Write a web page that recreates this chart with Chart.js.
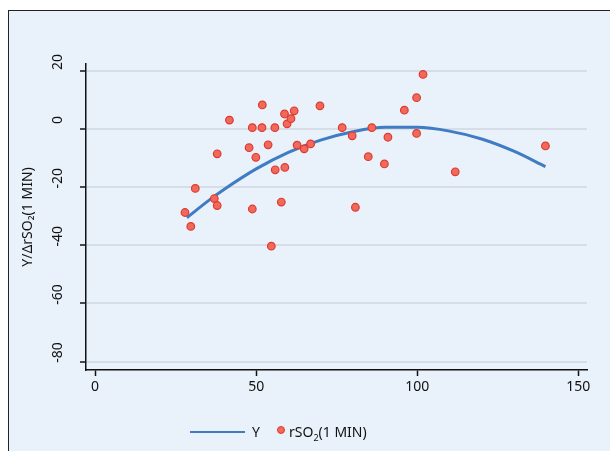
<!DOCTYPE html>
<html>
<head>
<meta charset="utf-8">
<script src="https://cdn.jsdelivr.net/npm/chart.js@4/dist/chart.umd.min.js"></script>
<style>
  html, body { margin: 0; padding: 0; background: #fff; }
  #frame { position: absolute; left: 8px; top: 10px; right: 0; bottom: 0;
           background: #E9F1FA; border-left: 1.5px solid #222; border-top: 1.5px solid #222; }
  #chart { position: absolute; left: 0; top: 0; }
  .lg { position: absolute; font-family: 'Noto Sans', sans-serif; font-size: 14px; color: #111; line-height: 16px; }
  #lgLine { position: absolute; left: 190px; top: 431px; width: 55px; height: 2px; background: #3F7CC4; }
  #lgDot { position: absolute; left: 277px; top: 426px; width: 6px; height: 6px; border-radius: 50%;
           background: #F0695C; border: 1px solid #DE3A2E; }
</style>
</head>
<body>
<div id="frame"></div>
<canvas id="chart" width="610" height="451"></canvas>
<div id="lgLine"></div>
<div class="lg" style="left:252px; top:424px;">Y</div>
<div id="lgDot"></div>
<div class="lg" style="left:289px; top:424px;">rSO<sub style="font-size:9px;">2</sub>(1 MIN)</div>
<script>
  // datos
  const xTicks = [0, 50, 100, 150];
  const yTicks = [-80, -60, -40, -20, 0, 20];

  // puntos rSO2 (1 MIN)
  const rso2X = [27.9, 29.7, 31.1, 37.0, 37.9, 37.9, 41.7, 47.8, 48.8, 48.8,
                 49.9, 51.9, 51.8, 53.7, 54.7, 55.8, 55.9, 57.8, 58.8, 58.9,
                 59.6, 60.8, 61.8, 62.7, 64.9, 66.9, 69.8, 76.7, 79.8, 80.8,
                 84.8, 85.9, 89.8, 90.9, 96.0, 99.8, 99.8, 101.8, 111.8, 139.8];
  const rso2Y = [-28.7, -33.5, -20.4, -23.9, -26.3, -8.5, 3.1, -6.4, 0.5, -27.5,
                 -9.7, 8.3, 0.5, -5.4, -40.3, 0.5, -14.0, -25.1, 5.2, -13.2,
                 1.8, 3.6, 6.3, -5.5, -6.8, -5.1, 8.0, 0.5, -2.3, -26.9,
                 -9.5, 0.5, -12.0, -2.8, 6.5, 10.8, -1.5, 18.8, -14.7, -5.8];

  // curva ajustada Y
  const fitX = [28.5, 35, 40, 50, 60, 70, 80, 90, 100, 110, 120, 130, 139.8];
  const fitY = [-30.5, -24.8, -20.8, -13.7, -8.0, -3.8, -0.9, 0.6, 0.6, -0.7, -3.4, -7.6, -12.9];

  const toPts = (xs, ys) => xs.map((x, i) => ({ x: x, y: ys[i] }));
  const FONT = "'Noto Sans', sans-serif";
  const INK = '#111';

  new Chart(document.getElementById('chart').getContext('2d'), {
    type: 'scatter',
    data: {
      datasets: [
        {
          type: 'line', label: 'Y', data: toPts(fitX, fitY),
          borderColor: '#3F7CC4', borderWidth: 3, pointRadius: 0,
          cubicInterpolationMode: 'monotone', fill: false, order: 2
        },
        {
          label: 'rSO₂(1 MIN)', data: toPts(rso2X, rso2Y),
          pointRadius: 3.8, backgroundColor: '#F0695C', borderColor: '#DE3A2E', borderWidth: 1.2, order: 1
        }
      ]
    },
    options: {
      responsive: false, animation: false,
      layout: { padding: { left: 0, top: 64, right: 23, bottom: 51 } },
      plugins: { legend: { display: false }, tooltip: { enabled: false } },
      scales: {
        x: {
          type: 'linear', min: -2.83, max: 152.7,
          afterBuildTicks: s => { s.ticks = xTicks.map(v => ({ value: v })); },
          afterFit: s => { s.height = 30; },
          border: { display: true, color: INK, width: 1.5 },
          grid: { drawOnChartArea: false, tickColor: INK, tickLength: 6, tickWidth: 1.5 },
          ticks: { color: INK, padding: 3, font: { family: FONT, size: 14 } }
        },
        y: {
          min: -82.9, max: 22.4,
          afterBuildTicks: s => { s.ticks = yTicks.map(v => ({ value: v })); },
          afterFit: s => { s.width = 86; },
          border: { display: true, color: INK, width: 1.5 },
          grid: { color: '#D6DDE6', lineWidth: 2, tickColor: INK, tickLength: 6, tickWidth: 1.5 },
          ticks: { color: INK, minRotation: 90, maxRotation: 90, crossAlign: 'center',
                   padding: 12, labelOffset: -9, font: { family: FONT, size: 14 } },
          title: { display: true, text: 'Y/ΔrSO₂(1 MIN)', color: INK,
                   padding: { top: 20, bottom: 0 }, font: { family: FONT, size: 14 } }
        }
      }
    }
  });
</script>
</body>
</html>
